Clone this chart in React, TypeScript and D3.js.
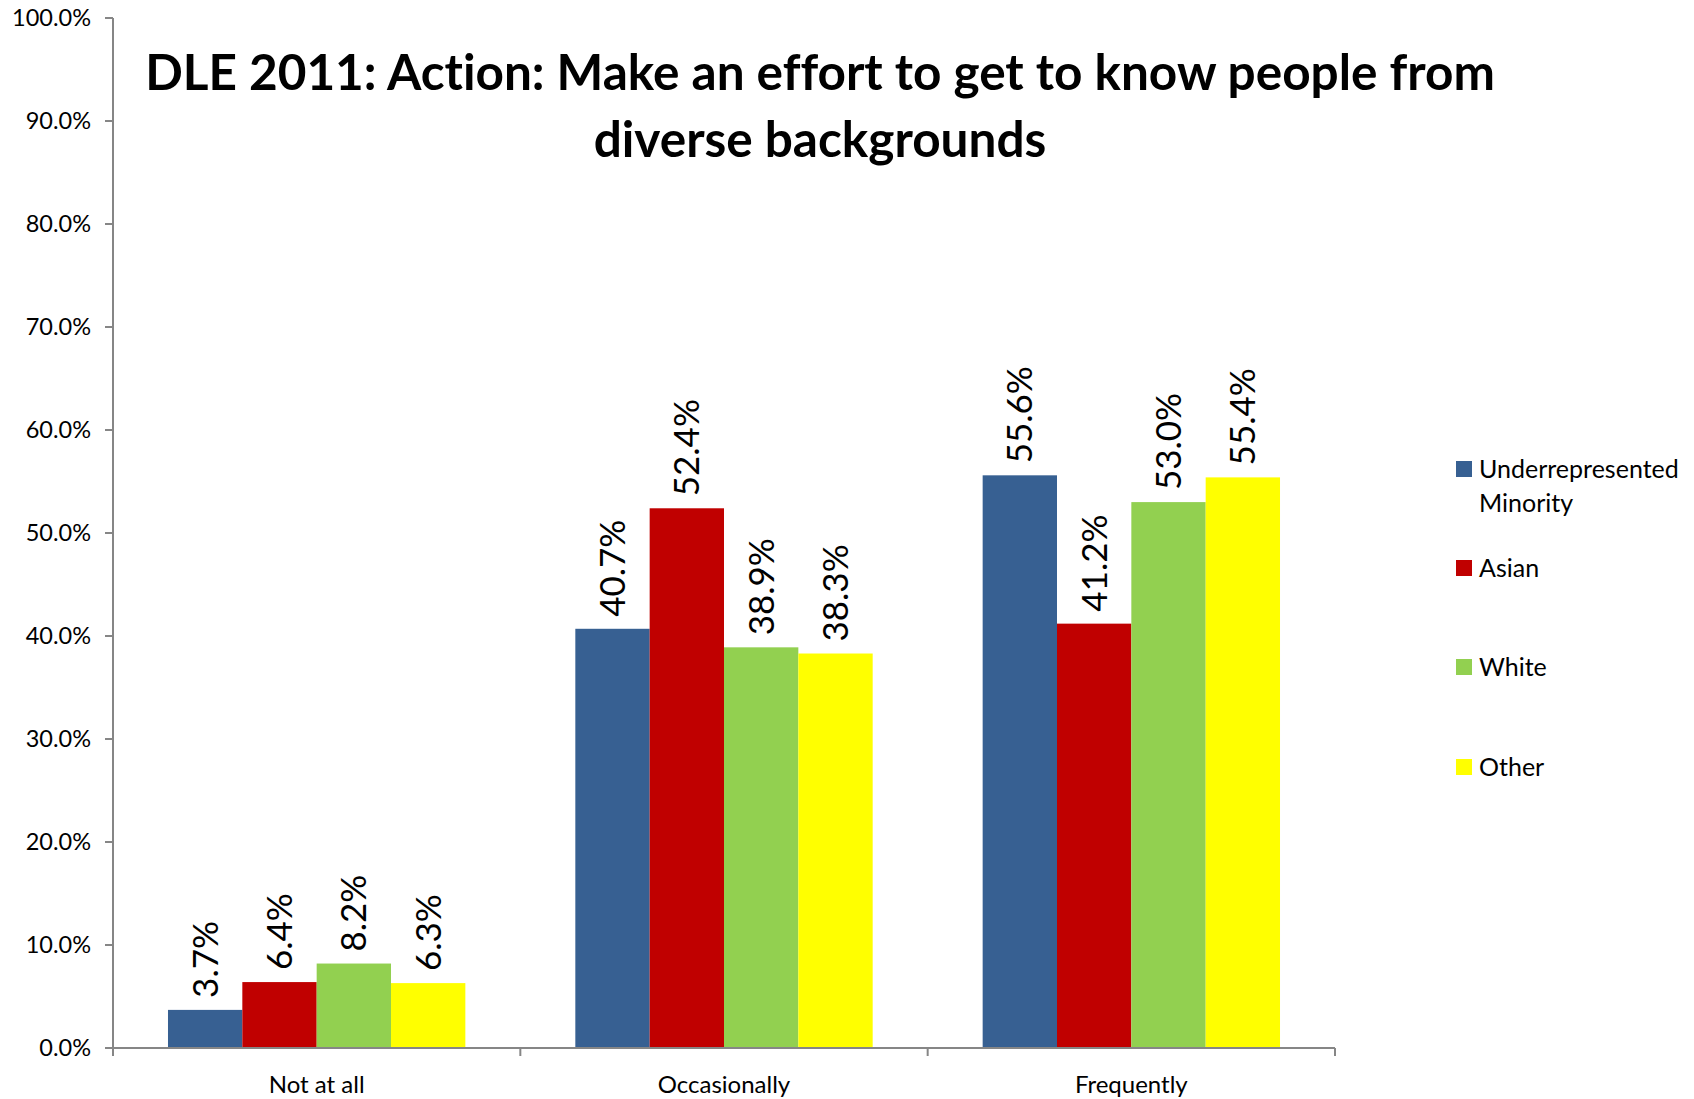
import React from 'react';
import * as d3 from 'd3';

const categories = ['Not at all', 'Occasionally', 'Frequently'];
const seriesNames = ['Underrepresented Minority', 'Asian', 'White', 'Other'];
const seriesColors = ['#376092', '#C00000', '#92D050', '#FFFF00'];
const values: number[][] = [
    [3.7, 40.7, 55.6],   // Underrepresented Minority
    [6.4, 52.4, 41.2],   // Asian
    [8.2, 38.9, 53.0],   // White
    [6.3, 38.3, 55.4],   // Other
];
const yTicks = [0, 10, 20, 30, 40, 50, 60, 70, 80, 90, 100];
const titleLines = ['DLE 2011: Action: Make an effort to get to know people from', 'diverse backgrounds'];
const legendLines = [['Underrepresented', 'Minority'], ['Asian'], ['White'], ['Other']];

const W = 1694;
const H = 1099;
const margin = { top: 18, left: 113, right: 359, bottom: 51 };
const axisColor = '#868686';
const font = 'Lato, "Open Sans", sans-serif';

export default function App() {
    const innerRight = W - margin.right;
    const innerBottom = H - margin.bottom;

    const x0 = d3.scaleBand<string>()
        .domain(categories)
        .range([margin.left, innerRight]);
    const bw = x0.bandwidth();
    const gap = bw * 0.27;
    const x1 = d3.scaleBand<string>()
        .domain(seriesNames)
        .range([gap / 2, bw - gap / 2]);
    const y = d3.scaleLinear().domain([0, 100]).range([innerBottom, margin.top]);
    const fmt = (v: number) => d3.format('.1f')(v) + '%';

    const legendY = [469, 568, 667, 767];

    return (
        <svg width={W} height={H}
            style={{ position: 'fixed', left: 0, top: 0, background: '#fff', fontVariantLigatures: 'none' }}
            fontFamily={font}>
            {/* bars */}
            {seriesNames.map((s, si) => (
                <g key={s}>
                    {categories.map((c, ci) => {
                        const v = values[si][ci];
                        const bx = (x0(c) ?? 0) + (x1(s) ?? 0);
                        return (
                            <rect key={c} x={bx} y={y(v)} width={x1.bandwidth()}
                                height={innerBottom - y(v)} fill={seriesColors[si]} />
                        );
                    })}
                </g>
            ))}
            {/* data labels */}
            {seriesNames.map((s, si) => categories.map((c, ci) => {
                const v = values[si][ci];
                const cx = (x0(c) ?? 0) + (x1(s) ?? 0) + x1.bandwidth() / 2;
                const ty = y(v) - 12;
                return (
                    <text key={s + c} transform={`translate(${cx},${ty}) rotate(-90)`}
                        dy="0.36em" fontSize={35} fill="#000" textAnchor="start">{fmt(v)}</text>
                );
            }))}
            {/* y axis */}
            <line x1={margin.left} x2={margin.left} y1={margin.top} y2={innerBottom}
                stroke={axisColor} strokeWidth={2} />
            {yTicks.map(t => (
                <g key={t}>
                    <line x1={margin.left - 8} x2={margin.left} y1={y(t)} y2={y(t)}
                        stroke={axisColor} strokeWidth={2} />
                    <text x={margin.left - 22} y={y(t)} dy="0.35em" textAnchor="end"
                        fontSize={23.5} fill="#000">{fmt(t)}</text>
                </g>
            ))}
            {/* x axis */}
            <line x1={margin.left} x2={innerRight} y1={innerBottom} y2={innerBottom}
                stroke={axisColor} strokeWidth={2} />
            {[...categories.map(c => x0(c) ?? 0), innerRight].map((tx, i) => (
                <line key={i} x1={tx} x2={tx} y1={innerBottom} y2={innerBottom + 8}
                    stroke={axisColor} strokeWidth={2} />
            ))}
            {categories.map(c => (
                <text key={c} x={(x0(c) ?? 0) + bw / 2} y={innerBottom + 37} dy="0.35em"
                    textAnchor="middle" fontSize={24} fill="#000">{c}</text>
            ))}
            {/* title */}
            {titleLines.map((t, i) => (
                <text key={i} x={820} y={73 + i * 67} dy="0.35em" textAnchor="middle"
                    fontSize={49.5} fontWeight="bold" fill="#000">{t}</text>
            ))}
            {/* legend */}
            {seriesNames.map((s, i) => (
                <g key={s}>
                    <rect x={1456} y={legendY[i] - 8} width={16} height={16} fill={seriesColors[i]} />
                    {legendLines[i].map((line, li) => (
                        <text key={li} x={1479} y={legendY[i] + li * 34} dy="0.35em"
                            fontSize={25} fill="#000">{line}</text>
                    ))}
                </g>
            ))}
        </svg>
    );
}
